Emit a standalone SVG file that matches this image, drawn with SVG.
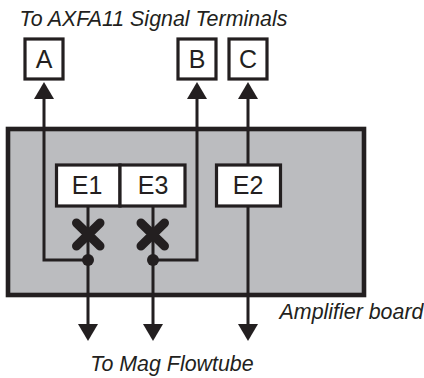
<svg xmlns="http://www.w3.org/2000/svg" width="424" height="378" viewBox="0 0 424 378">
<style>
.t{font-family:"Liberation Sans",Arial,sans-serif;font-size:25px;fill:#231f20;text-anchor:middle}
.i{font-family:"Liberation Sans",Arial,sans-serif;font-size:21.4px;font-style:italic;fill:#231f20;text-anchor:middle}
.box{fill:#fff;stroke:#231f20;stroke-width:3.2}
.w{fill:none;stroke:#231f20;stroke-width:3}
.x{fill:none;stroke:#231f20;stroke-width:9;stroke-linecap:round}
.h{fill:#231f20}
</style>
<rect width="424" height="378" fill="#fff"/>
<g id="board"><rect x="8" y="129" width="356" height="166" fill="#bbbcbf" stroke="#231f20" stroke-width="4.6"/></g>
<g id="connectors">
<path class="w" d="M44 98V260H88M197 98V260H153M248 98V165M248 207V328M88 207V328M153 207V328"/>
<polygon class="h" points="44,82 54,99 34,99"/>
<polygon class="h" points="197,82 207,99 187,99"/>
<polygon class="h" points="248,82 258,99 238,99"/>
<polygon class="h" points="88,341 78,324 98,324"/>
<polygon class="h" points="153,341 143,324 163,324"/>
<polygon class="h" points="248,341 238,324 258,324"/>
<circle class="h" cx="88" cy="260" r="6"/>
<circle class="h" cx="153" cy="260" r="6"/>
</g>
<g id="x1"><path class="x" d="M76.500 223L100 246M100 223L76.500 246"/></g>
<g id="x2"><path class="x" d="M141 223L164.500 246M164.500 223L141 246"/></g>
<g id="nodeA"><rect class="box" x="25" y="39" width="38" height="40"/><text class="t" x="44" y="68">A</text></g>
<g id="nodeB"><rect class="box" x="178" y="39" width="38" height="40"/><text class="t" x="197" y="68">B</text></g>
<g id="nodeC"><rect class="box" x="229" y="39" width="38" height="40"/><text class="t" x="248" y="68">C</text></g>
<g id="nodeE1"><rect class="box" x="56.500" y="165" width="63.500" height="41"/><text class="t" x="87" y="194">E1</text></g>
<g id="nodeE3"><rect class="box" x="120" y="165" width="65" height="41"/><text class="t" x="153" y="194">E3</text></g>
<g id="nodeE2"><rect class="box" x="216.500" y="165" width="64" height="41"/><text class="t" x="248" y="194">E2</text></g>
<text class="i" x="153.500" y="26">To AXFA11 Signal Terminals</text>
<text class="i" x="351.500" y="319">Amplifier board</text>
<text class="i" x="172" y="371">To Mag Flowtube</text>
</svg>
